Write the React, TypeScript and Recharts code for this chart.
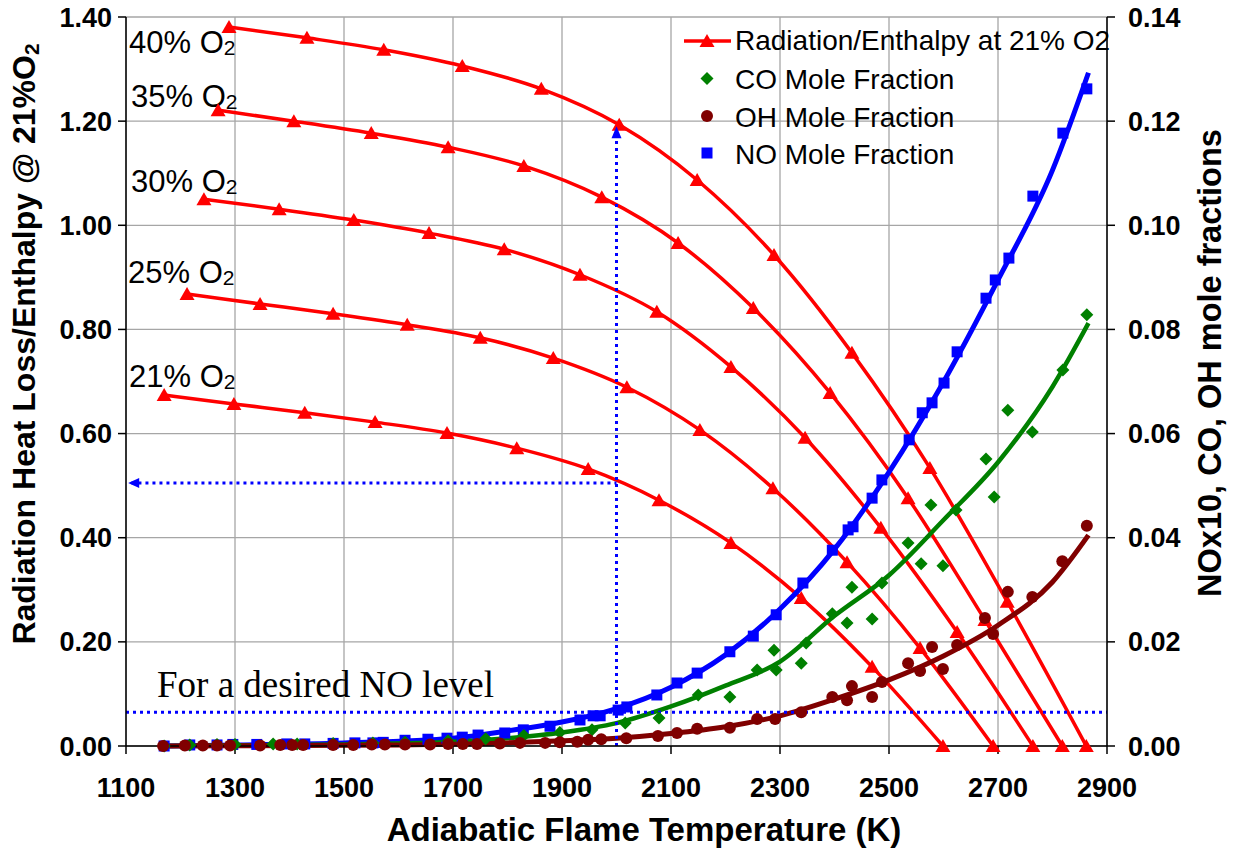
import React from "react"
import {
  ComposedChart,
  Line,
  Scatter,
  XAxis,
  YAxis,
  CartesianGrid,
  ReferenceLine,
  ReferenceDot,
  Customized,
} from "recharts"

const FONT = "'Liberation Sans', Arial, sans-serif"

// tick labels
const xTicks = [1100, 1300, 1500, 1700, 1900, 2100, 2300, 2500, 2700, 2900]
const leftTicks = [0, 0.2, 0.4, 0.6, 0.8, 1.0, 1.2, 1.4]
const rightTicks = [0, 0.02, 0.04, 0.06, 0.08, 0.1, 0.12, 0.14]

// radiation / enthalpy curves, one per O2 level
const rad21T = [1170, 1298, 1428, 1557, 1689, 1817, 1948, 2078, 2210, 2339, 2469, 2599]
const rad21 = [0.674, 0.657, 0.64, 0.622, 0.601, 0.572, 0.532, 0.472, 0.39, 0.284, 0.152, 0]
const rad25T = [1212, 1346, 1480, 1616, 1750, 1884, 2019, 2153, 2287, 2423, 2557, 2691]
const rad25 = [0.868, 0.849, 0.83, 0.809, 0.784, 0.745, 0.689, 0.607, 0.495, 0.353, 0.188, 0]
const rad30T = [1243, 1381, 1518, 1656, 1794, 1933, 2074, 2210, 2346, 2485, 2625, 2764]
const rad30 = [1.05, 1.031, 1.01, 0.985, 0.954, 0.905, 0.834, 0.728, 0.592, 0.419, 0.219, 0]
const rad35T = [1269, 1408, 1550, 1691, 1830, 1973, 2113, 2251, 2392, 2535, 2676, 2818]
const rad35 = [1.221, 1.2, 1.177, 1.15, 1.114, 1.054, 0.966, 0.841, 0.678, 0.476, 0.242, 0]
const rad40T = [1289, 1432, 1573, 1717, 1862, 2005, 2148, 2289, 2432, 2575, 2717, 2862]
const rad40 = [1.381, 1.36, 1.337, 1.306, 1.262, 1.193, 1.087, 0.943, 0.755, 0.534, 0.277, 0]

// NO mole fraction (x10) points and fitted curve
const noT = [1170, 1217, 1267, 1296, 1340, 1395, 1428, 1480, 1520, 1553, 1572, 1612, 1654, 1689, 1717, 1746, 1795, 1829, 1878, 1933, 1957, 1970, 2003, 2019, 2074, 2111, 2148, 2208, 2251, 2293, 2342, 2396, 2425, 2434, 2469, 2487, 2537, 2561, 2579, 2601, 2625, 2678, 2695, 2720, 2764, 2819, 2863]
const no = [0, 0.0002, 0.0002, 0.0003, 0.0003, 0.0004, 0.0004, 0.0005, 0.0006, 0.0006, 0.0007, 0.0011, 0.0013, 0.0015, 0.0017, 0.0021, 0.0025, 0.0031, 0.0038, 0.005, 0.0058, 0.0058, 0.0069, 0.0075, 0.0098, 0.0121, 0.014, 0.0181, 0.0211, 0.0252, 0.0313, 0.0376, 0.0415, 0.0421, 0.0476, 0.0511, 0.0588, 0.064, 0.0659, 0.0697, 0.0757, 0.086, 0.0895, 0.0937, 0.1056, 0.1177, 0.1262]
const noFitT = [1170, 1300, 1500, 1700, 1800, 1900, 2000, 2100, 2200, 2300, 2400, 2500, 2600, 2700, 2800, 2866]
const noFit = [0, 0.0002, 0.0006, 0.0015, 0.0029, 0.0046, 0.0072, 0.0113, 0.0175, 0.0263, 0.0378, 0.0526, 0.0699, 0.0895, 0.1106, 0.1293]

// CO mole fraction points and fitted curve
const coT = [1170, 1217, 1267, 1300, 1370, 1414, 1480, 1553, 1612, 1691, 1760, 1830, 1896, 1955, 2016, 2078, 2150, 2208, 2258, 2289, 2293, 2339, 2348, 2396, 2423, 2432, 2469, 2487, 2535, 2559, 2577, 2599, 2623, 2678, 2693, 2718, 2763, 2819, 2863]
const co = [0, 0.0002, 0.0003, 0.0003, 0.0004, 0.0004, 0.0005, 0.0006, 0.0007, 0.001, 0.0014, 0.002, 0.0026, 0.0031, 0.0044, 0.0054, 0.0098, 0.0094, 0.0146, 0.0184, 0.0146, 0.0159, 0.0198, 0.0254, 0.0236, 0.0305, 0.0244, 0.0313, 0.039, 0.035, 0.0463, 0.0346, 0.0453, 0.0551, 0.0478, 0.0645, 0.0603, 0.0722, 0.0828]
const coFitT = [1170, 1500, 1700, 1800, 1900, 2000, 2100, 2200, 2300, 2400, 2500, 2600, 2700, 2800, 2866]
const coFit = [0, 0.0003, 0.0008, 0.0015, 0.0026, 0.0044, 0.0076, 0.0116, 0.0162, 0.025, 0.0328, 0.0434, 0.0545, 0.069, 0.0812]

// OH mole fraction points and fitted curve
const ohT = [1168, 1208, 1241, 1267, 1291, 1346, 1383, 1405, 1425, 1480, 1517, 1551, 1575, 1612, 1658, 1691, 1718, 1744, 1786, 1823, 1869, 1896, 1928, 1948, 1972, 2018, 2076, 2111, 2148, 2208, 2258, 2291, 2339, 2396, 2423, 2432, 2469, 2487, 2535, 2557, 2579, 2599, 2625, 2676, 2691, 2718, 2763, 2818, 2863]
const oh = [0, 0.0001, 0.0001, 0.0001, 0.0001, 0.0001, 0.0002, 0.0002, 0.0002, 0.0002, 0.0002, 0.0003, 0.0003, 0.0003, 0.0003, 0.0004, 0.0004, 0.0004, 0.0005, 0.0006, 0.0006, 0.0007, 0.0008, 0.0012, 0.0013, 0.0015, 0.0019, 0.0025, 0.0033, 0.0035, 0.0052, 0.0052, 0.0065, 0.0094, 0.0088, 0.0115, 0.0094, 0.0123, 0.0159, 0.0144, 0.019, 0.0148, 0.0194, 0.0246, 0.0215, 0.0296, 0.0286, 0.0355, 0.0423]
const ohFitT = [1170, 1600, 1800, 1900, 2000, 2100, 2200, 2300, 2400, 2500, 2600, 2700, 2800, 2866]
const ohFit = [0, 0.0002, 0.0006, 0.001, 0.0015, 0.0024, 0.0037, 0.0058, 0.009, 0.0127, 0.0173, 0.0232, 0.0315, 0.0405]

// desired NO level annotation
const targetT = 2000
const targetRad = 1.19
const targetLoss = 0.505
const noLevel = 0.065

const toPoints = (ts: number[], vs: number[]) => ts.map((t, i) => ({ t, v: vs[i] }))

const radCurves = [
  { name: "21%", data: toPoints(rad21T, rad21) },
  { name: "25%", data: toPoints(rad25T, rad25) },
  { name: "30%", data: toPoints(rad30T, rad30) },
  { name: "35%", data: toPoints(rad35T, rad35) },
  { name: "40%", data: toPoints(rad40T, rad40) },
]

const RED = "#ff0000"
const GREEN = "#008000"
const DARKRED = "#800000"
const BLUE = "#0000ff"

const triangle = (props: any) => {
  const { cx, cy, index } = props
  if (cx == null || cy == null) return <g key={index} />
  return <path key={index} d={`M${cx},${cy - 7} L${cx + 7.5},${cy + 6} L${cx - 7.5},${cy + 6} Z`} fill={RED} />
}
const square = (props: any) => {
  const { cx, cy } = props
  return <rect x={cx - 5.5} y={cy - 5.5} width={11} height={11} fill={BLUE} />
}
const diamond = (props: any) => {
  const { cx, cy } = props
  return <path d={`M${cx},${cy - 6.5} L${cx + 6.5},${cy} L${cx},${cy + 6.5} L${cx - 6.5},${cy} Z`} fill={GREEN} />
}
const circle = (props: any) => {
  const { cx, cy } = props
  return <circle cx={cx} cy={cy} r={6} fill={DARKRED} />
}

const o2Labels = [
  { text: "40% O", x: 129, y: 53 },
  { text: "35% O", x: 131, y: 107 },
  { text: "30% O", x: 131, y: 192 },
  { text: "25% O", x: 128, y: 283 },
  { text: "21% O", x: 129, y: 387 },
]

function Annotations() {
  return (
    <g fontFamily={FONT}>
      {o2Labels.map((l) => (
        <text key={l.text} x={l.x} y={l.y} fontSize={31} fill="#000">
          {l.text}
          <tspan fontSize={21} dy={2}>2</tspan>
        </text>
      ))}
      <text x={157} y={697} fontSize={37} fontFamily="'Liberation Serif', 'Times New Roman', serif" fill="#000">
        For a desired NO level
      </text>

      {/* axis titles */}
      <text x={644} y={841} fontSize={33} fontWeight={700} textAnchor="middle" fill="#000">
        Adiabatic Flame Temperature (K)
      </text>
      <text transform="translate(35,344) rotate(-90)" fontSize={32} fontWeight={700} textAnchor="middle" fill="#000">
        Radiation Heat Loss/Enthalpy @ 21%O<tspan fontSize={21} dy={4}>2</tspan>
      </text>
      <text transform="translate(1221,363) rotate(-90)" fontSize={32.5} fontWeight={700} textAnchor="middle" fill="#000">
        NOx10, CO, OH mole fractions
      </text>

      {/* legend */}
      <line x1={684} y1={41} x2={731} y2={41} stroke={RED} strokeWidth={3.5} />
      <path d="M707,34 L714.5,47 L699.5,47 Z" fill={RED} />
      <text x={735} y={50} fontSize={28} fill="#000">Radiation/Enthalpy at 21% O2</text>
      <path d="M707,72 L713.5,78.5 L707,85 L700.5,78.5 Z" fill={GREEN} />
      <text x={735} y={89} fontSize={28} fill="#000">CO Mole Fraction</text>
      <circle cx={707} cy={116} r={6} fill={DARKRED} />
      <text x={735} y={127} fontSize={28} fill="#000">OH Mole Fraction</text>
      <rect x={701.5} y={147.5} width={11} height={11} fill={BLUE} />
      <text x={735} y={164} fontSize={28} fill="#000">NO Mole Fraction</text>
    </g>
  )
}

const tickStyle = { fill: "#000", fontSize: 27, fontWeight: 700, fontFamily: FONT }

export default function App() {
  return (
    <div style={{ position: "absolute", left: 0, top: 0, width: 1238, height: 853, background: "#fff" }}>
      <ComposedChart width={1238} height={853} margin={{ top: 17, right: 0, bottom: 0, left: 0 }} style={{ fontFamily: FONT }}>
        <CartesianGrid yAxisId="left" stroke="#a6a6a6" strokeWidth={1.3} />
        <XAxis
          dataKey="t"
          type="number"
          domain={[1100, 2900]}
          ticks={xTicks}
          height={107}
          tick={tickStyle}
          tickSize={8}
          tickMargin={24}
          axisLine={{ stroke: "#000", strokeWidth: 1.5 }}
          tickLine={{ stroke: "#000", strokeWidth: 1.5 }}
        />
        <YAxis
          yAxisId="left"
          type="number"
          domain={[0, 1.4]}
          ticks={leftTicks}
          width={126}
          tick={tickStyle}
          tickSize={8}
          tickMargin={6}
          tickFormatter={(v: number) => v.toFixed(2)}
          axisLine={{ stroke: "#000", strokeWidth: 1.5 }}
          tickLine={{ stroke: "#000", strokeWidth: 1.5 }}
        />
        <YAxis
          yAxisId="right"
          orientation="right"
          type="number"
          domain={[0, 0.14]}
          ticks={rightTicks}
          width={131}
          tick={tickStyle}
          tickSize={8}
          tickMargin={13}
          tickFormatter={(v: number) => v.toFixed(2)}
          axisLine={{ stroke: "#000", strokeWidth: 1.5 }}
          tickLine={{ stroke: "#000", strokeWidth: 1.5 }}
        />

        {radCurves.map((c) => (
          <Line
            key={c.name}
            yAxisId="left"
            data={c.data}
            dataKey="v"
            name={c.name}
            type="monotone"
            stroke={RED}
            strokeWidth={3.5}
            dot={triangle}
            activeDot={false}
            isAnimationActive={false}
          />
        ))}

        <Scatter yAxisId="right" data={toPoints(noT, no)} dataKey="v" shape={square} isAnimationActive={false} />
        <Line yAxisId="right" data={toPoints(noFitT, noFit)} dataKey="v" type="monotone" stroke={BLUE} strokeWidth={5} dot={false} activeDot={false} isAnimationActive={false} />
        <Scatter yAxisId="right" data={toPoints(coT, co)} dataKey="v" shape={diamond} isAnimationActive={false} />
        <Line yAxisId="right" data={toPoints(coFitT, coFit)} dataKey="v" type="monotone" stroke={GREEN} strokeWidth={4.5} dot={false} activeDot={false} isAnimationActive={false} />
        <Scatter yAxisId="right" data={toPoints(ohT, oh)} dataKey="v" shape={circle} isAnimationActive={false} />
        <Line yAxisId="right" data={toPoints(ohFitT, ohFit)} dataKey="v" type="monotone" stroke={DARKRED} strokeWidth={5} dot={false} activeDot={false} isAnimationActive={false} />

        <ReferenceLine yAxisId="left" y={noLevel} stroke={BLUE} strokeWidth={3} strokeDasharray="3 4" />
        <ReferenceLine
          yAxisId="left"
          segment={[{ x: targetT, y: 0 }, { x: targetT, y: targetRad - 0.02 }]}
          stroke={BLUE}
          strokeWidth={3}
          strokeDasharray="3 4"
        />
        <ReferenceLine
          yAxisId="left"
          segment={[{ x: 1110, y: targetLoss }, { x: targetT, y: targetLoss }]}
          stroke={BLUE}
          strokeWidth={3}
          strokeDasharray="3 4"
        />
        <ReferenceDot
          yAxisId="left"
          x={targetT}
          y={targetRad}
          shape={(p: any) => <path d={`M${p.cx},${p.cy} L${p.cx + 5},${p.cy + 12} L${p.cx - 5},${p.cy + 12} Z`} fill={BLUE} />}
        />
        <ReferenceDot
          yAxisId="left"
          x={1104}
          y={targetLoss}
          shape={(p: any) => <path d={`M${p.cx},${p.cy} L${p.cx + 11},${p.cy - 5} L${p.cx + 11},${p.cy + 5} Z`} fill={BLUE} />}
        />

        <Customized component={Annotations} />
      </ComposedChart>
    </div>
  )
}
